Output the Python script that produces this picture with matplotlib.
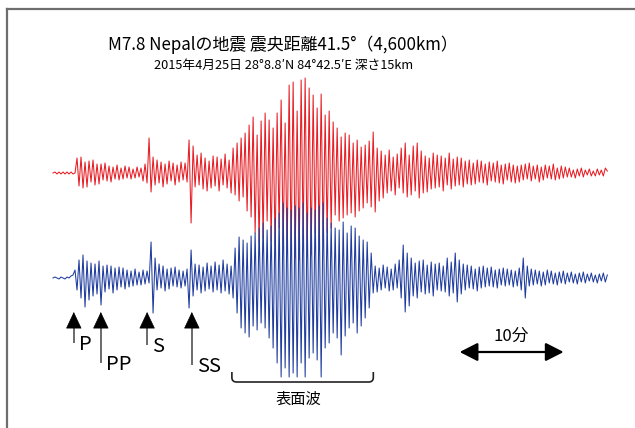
import matplotlib
matplotlib.use('Agg')
import matplotlib.pyplot as plt
from matplotlib.lines import Line2D
from matplotlib.path import Path
from matplotlib.patches import PathPatch
import numpy as np

plt.rcParams['font.family'] = ['Noto Sans CJK JP', 'DejaVu Sans']

TITLE = "M7.8 Nepalの地震 震央距離41.5°（4,600km）"
SUBTITLE = "2015年4月25日 28°8.8′N 84°42.5′E 深さ15km"

# trace length in minutes, amplitudes are relative (one value per half-cycle)
DURATION_MIN = 53.3

red_trace = [
    0, 1, -1, 1, -1, 1, -1, 1, -1, 1, -1, 0,
    15, -13, 16, -15, 11, -14, 12, -9, 13, -12, 9, -11,
    9, -7, 10, -8, 7, -9, 6, -6, 8, -7, 5, -6, 7, -5, 6, -6, 4, -5, 6, -4, 5, -8, 9, -10,
    35, -19, 16, -12,
    13, -10, 11, -14, 9, -11, 12, -8, 10, -12, 8, -9, 11, -7, 10, -9,
    33, -50, 27,
    -14, 18, -12, 20, -16, 15, -18, 12, -15, 17, -13, 16, -18, 14, -12, 19, -15, 13,
    -20, 25, -22, 30, -28, 35, -24, 40, -38, 48,
    -44, 56, -60, 38, -70, 52, -65, 60, -48, 53,
    -68, 45, -72, 60, -55, 73, -70, 50, -80, 88,
    -78, 91, -85, 62, -87, 93, -66, 95, -84, 85,
    -82, 78, -60, 65, -72, 79, -68, 58, -60, 62,
    -55, 51, -42, 45, -48, 36, -45, 40, -42, 38,
    -40, 30, -44, 33, -38, 26, -35, 28, -30, 32,
    -34, 41, -39, 25, -28, 22, -25, 18, -20, 23,
    -18, 16, -22, 19, -15, 25, -20, 30, -24, 18, -22, 27, -18, 30, -25, 22, -20, 17, -19, 15,
    -16, 20, -15, 18, -14, 17, -18, 15, -12, 20, -16, 14, -13, 16, -12, 15, -14, 12, -11, 13,
    -12, 10, -11, 13, -9, 12, -10, 9, -12, 11, -8, 10, -9, 12, -10, 8, -11, 9, -7, 10, -9, 8, -10, 7, -9,
    8, -7, 9, -6, 10, -8, 7, -6, 8, -9, 6, -7, 8, -5, 7, -6, 9, -7, 5, -6, 7, -5, 6, -4, 5,
    -4, 3, -5, 4, -3, 5, -4, 3, -2, 4, -3, 2, -3, 4, -2, 3, -3, 5, 2,
]

blue_trace = [
    0, 1, 0, -1, 1, 0, -1, 1, 0, 2, 3,
    8, -12, 18, -20, 23, -29, 17, -22, 15, -18, 14, -16,
    17, -27, 12, -14,
    13, -11, 12, -15, 10, -12, 11, -9, 10, -11, 8, -9, 7, -8, 9, -7, 6, -7, 8, -6, 7, -5,
    36, -35, 20,
    -12, 14, -10, 12, -13, 9, -11, 10, -8, 11, -9, 8, -10, 7, -8, 9,
    -30, 28, -18,
    14, -12, 13, -15, 11, -13, 15, -11, 12, -14, 16, -12, 13, -15, 18, -13, 14, -16, 12,
    -20, 30, -35, 41, -50, 38, -55, 35, -59, 42,
    -48, 45, -52, 50, -45, 55, -50, 48, -60, 52,
    -70, 60, -85, 65, -99, 75, -90, 70, -99, 68,
    -95, 72, -99, 70, -85, 75, -99, 65, -80, 70,
    -75, 68, -82, 72, -99, 75, -70, 60, -65, 55,
    -55, 50, -60, 48, -77, 56, -58, 45, -50, 52,
    -45, 50, -55, 42, -48, 38, -40, 36, -30, 25,
    -15, 12, -14, 10, -12, 13, -10, 11, -13, 9, -12, 14, -10, 18, -20,
    33, -34, 25, -28, 20,
    -18, 15, -20, 17, -14, 18, -16, 13, -15, 16, -18, 14, -12, 15, -13, 12, -14, 20, -18, 16, -15, 25, -24, 18, -16,
    14, -12, 13, -10, 12, -11, 9, -13, 11, -10, 12, -9, 10, -8, 11, -9, 8, -10, 9, -7, 10, -8, 9, -7, 8, -9, 7, -8, 10, -12,
    20, -20, 12,
    -8, 9, -7, 8, -6, 7, -8, 6, -7, 8, -5, 7, -6, 5, -7, 6, -5, 7, -6, 5, -4, 6, -5, 4, -6, 5, -4, 6, -5, 4, -3, 5, -4, 3, -5, 4, -3, 5, -4, 3,
]

phase_names = ['P', 'PP', 'S', 'SS']
phase_times = [2.0, 4.6, 9.05, 13.35]
phase_lengths = [31, 51, 33, 53]

surface_start, surface_end = 17.2, 30.8
scale_start, scale_minutes = 39.1, 10

RED = '#e61e25'
BLUE = '#1f3c9e'
RED_OFFSET = 0
BLUE_OFFSET = -105
PX_PER_MIN = 10.4


def draw_traces(ax):
    t_red = np.linspace(0, DURATION_MIN, len(red_trace))
    t_blue = np.linspace(0, DURATION_MIN, len(blue_trace))
    ax.plot(t_red, np.array(red_trace) + RED_OFFSET, color=RED, lw=0.75)
    ax.plot(t_blue, np.array(blue_trace) + BLUE_OFFSET, color=BLUE, lw=0.75)


def draw_phases(ax):
    tip = BLUE_OFFSET - 34
    head = 15
    for name, t, length in zip(phase_names, phase_times, phase_lengths):
        ax.plot([t, t], [tip - length, tip - head + 2], color='#6a6a6a', lw=1.4,
                solid_capstyle='butt')
        ax.annotate('', xy=(t, tip), xytext=(t, tip - head),
                    arrowprops=dict(arrowstyle='-|>,head_length=0.55,head_width=0.26',
                                    mutation_scale=20, color='black', lw=0.5,
                                    shrinkA=0, shrinkB=0))
        ax.text(t + 0.5, tip - length - 7, name, fontsize=14.5, ha='left', va='baseline')


def draw_surface_bracket(ax):
    top, bottom = BLUE_OFFSET - 94, BLUE_OFFSET - 104
    rx, ry = 0.45, 4.5
    verts = [(surface_start, top), (surface_start, bottom + ry),
             (surface_start, bottom), (surface_start + rx, bottom),
             (surface_end - rx, bottom), (surface_end, bottom),
             (surface_end, bottom + ry), (surface_end, top)]
    codes = [Path.MOVETO, Path.LINETO, Path.CURVE3, Path.CURVE3,
             Path.LINETO, Path.CURVE3, Path.CURVE3, Path.LINETO]
    ax.add_patch(PathPatch(Path(verts, codes), fill=False, ec='#222222', lw=1.2))
    ax.text((surface_start + surface_end) / 2 - 0.4, bottom - 9, '表面波',
            fontsize=11, ha='center', va='top')


def draw_scale(ax):
    y = BLUE_OFFSET - 74
    ax.annotate('', xy=(scale_start, y), xytext=(scale_start + scale_minutes, y),
                arrowprops=dict(arrowstyle='<|-|>,head_length=0.55,head_width=0.28',
                                mutation_scale=20, color='black', lw=1.6,
                                shrinkA=0, shrinkB=0))
    ax.text(scale_start + scale_minutes / 2, y + 11, '10分', fontsize=12,
            ha='center', va='baseline')


fig = plt.figure(figsize=(6.35, 4.28), dpi=100)
ax = fig.add_axes([0, 0, 1, 1])
ax.set_xlim(-53 / PX_PER_MIN, (635 - 53) / PX_PER_MIN)
ax.set_ylim(173 - 428, 173)
ax.axis('off')

draw_traces(ax)
draw_phases(ax)
draw_surface_bracket(ax)
draw_scale(ax)

fig.text(283 / 635, 1 - 45 / 428, TITLE, fontsize=12.2, ha='center', va='center')
fig.text(284 / 635, 1 - 65 / 428, SUBTITLE, fontsize=9.2, ha='center', va='center')

# frame cut at right and bottom
fig.add_artist(Line2D([7 / 635, 7 / 635], [0, 1 - 8.5 / 428], color='#6e6e6e', lw=1.6))
fig.add_artist(Line2D([7 / 635, 1], [1 - 8.5 / 428, 1 - 8.5 / 428], color='#6e6e6e', lw=1.6))

plt.savefig('out.png', dpi=100)
